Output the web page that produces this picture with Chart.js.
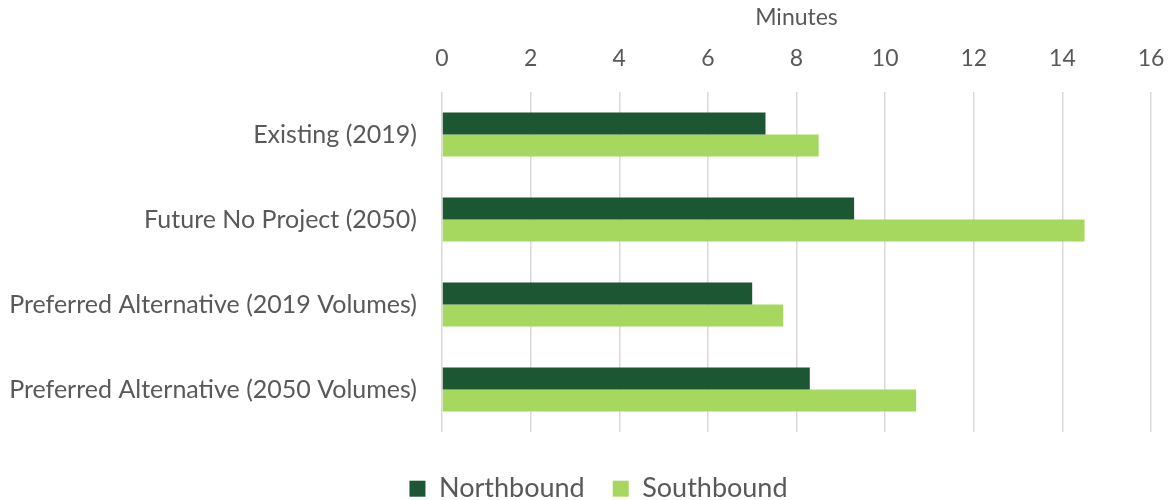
<!DOCTYPE html>
<html>
<head>
<meta charset="utf-8">
<script src="https://cdn.jsdelivr.net/npm/chart.js@4/dist/chart.umd.min.js"></script>
<style>
  html, body { margin: 0; padding: 0; background: #ffffff; }
  #wrap { width: 1169px; height: 500px; position: relative; }
</style>
</head>
<body>
<div id="wrap"><canvas id="travelChart"></canvas></div>
<script>
let scenarios = ["Existing (2019)", "Future No Project (2050)", "Preferred Alternative (2019 Volumes)", "Preferred Alternative (2050 Volumes)"];
let northbound = [7.3, 9.3, 7.0, 8.3];
let southbound = [8.5, 14.5, 7.7, 10.7];
let minuteTicks = [0, 2, 4, 6, 8, 10, 12, 14, 16];

let textColor = "#595959";
let fontName = "Lato, 'Open Sans', sans-serif";

// fixed legend strip height, nudged a little right of centre
let legendPlacement = {
    id: "legendPlacement",
    beforeInit: function(chart) {
        let fit = chart.legend.fit;
        chart.legend.fit = function() {
            fit.bind(chart.legend)();
            this.height = 68;
        };
    },
    afterLayout: function(chart) {
        chart.legend.left += 19;
        chart.legend.right += 19;
    }
};

new Chart("travelChart", {
    type: "bar",
    data: {
        labels: scenarios,
        datasets: [
            { label: "Northbound", data: northbound, backgroundColor: "#1c5632", borderWidth: 0 },
            { label: "Southbound", data: southbound, backgroundColor: "#a6d75f", borderWidth: 0 }
        ]
    },
    options: {
        indexAxis: "y",
        responsive: true,
        maintainAspectRatio: false,
        animation: false,
        layout: { padding: { left: 8, right: 18, top: 4, bottom: 0 } },
        datasets: { bar: { categoryPercentage: 0.52, barPercentage: 1 } },
        scales: {
            x: {
                position: "top",
                min: 0,
                max: 16,
                afterBuildTicks: function(scale) {
                    scale.ticks = minuteTicks.map(function(v) { return { value: v }; });
                },
                afterFit: function(scale) {
                    scale.height = 88;
                    scale.paddingLeft = 0;
                    scale.paddingRight = 0;
                },
                grid: { color: "#d9d9d9", lineWidth: 1.5, drawTicks: false },
                border: { display: false },
                ticks: { color: textColor, font: { family: fontName, size: 23 }, padding: 20 },
                title: { display: true, text: "Minutes", color: textColor, font: { family: fontName, size: 23 }, padding: { top: 0, bottom: 13 } }
            },
            y: {
                grid: { display: false, drawTicks: false },
                border: { display: false },
                ticks: { color: textColor, font: { family: fontName, size: 25 }, padding: 25 },
                afterFit: function(scale) { scale.width = 434; }
            }
        },
        plugins: {
            legend: {
                position: "bottom",
                title: { display: true, text: "", font: { size: 1 }, padding: { top: 0, bottom: 14 } },
                labels: {
                    color: textColor,
                    font: { family: fontName, size: 27 },
                    boxWidth: 16,
                    boxHeight: 16,
                    padding: 28
                }
            },
            tooltip: { enabled: false }
        }
    },
    plugins: [legendPlacement]
});
</script>
</body>
</html>
